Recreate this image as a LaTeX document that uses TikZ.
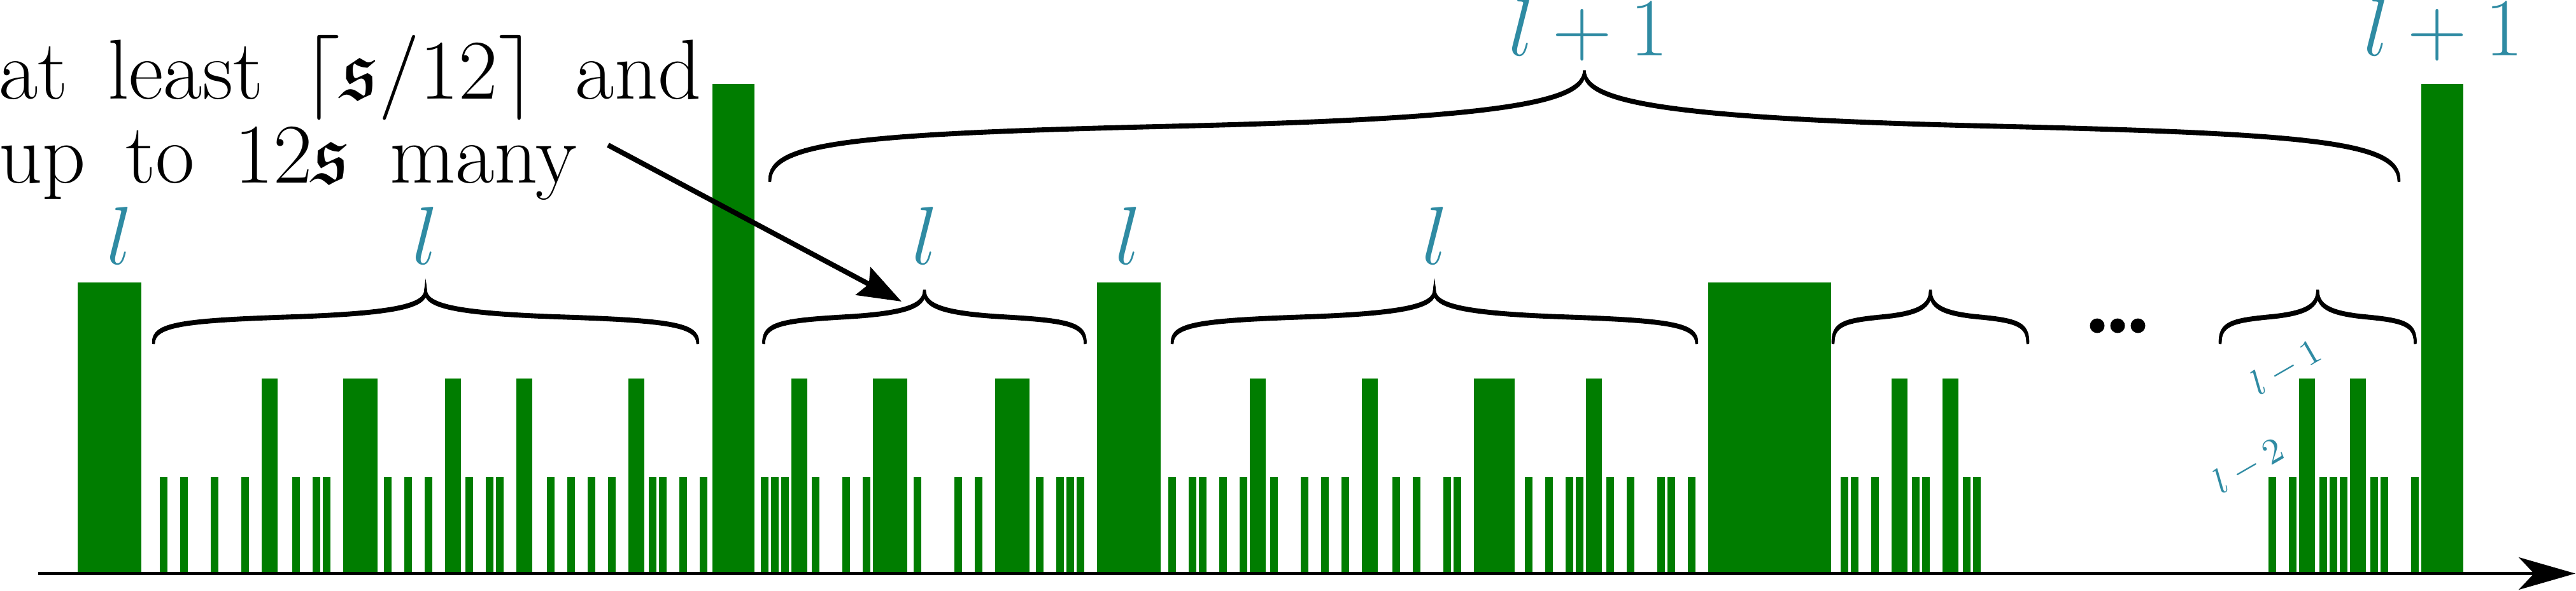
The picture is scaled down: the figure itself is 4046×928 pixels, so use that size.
\documentclass[tikz,border=0pt]{standalone}
\usepackage{amssymb}
\usetikzlibrary{arrows.meta}
\definecolor{bargreen}{RGB}{0,125,0}
\definecolor{labteal}{RGB}{47,139,163}
\tikzset{
  bar/.style={fill=bargreen},
  lab/.style={text=labteal, font=\fontsize{20.74}{21.12}\selectfont, inner sep=0pt, anchor=base},
  sublab/.style={text=labteal, font=\fontsize{9}{10}\selectfont, inner sep=0pt, rotate=30},
  bracestroke/.style={line width=0.7pt, line cap=butt},
  axisline/.style={line width=0.75pt, -{Stealth[length=14.24pt,width=8.16pt,inset=3.84pt]}},
  pointer/.style={line width=1.28pt, -{Stealth[length=10.9pt,width=7.84pt,inset=1.6pt]}},
  dotmark/.style={fill=black},
  note/.style={anchor=base west, align=left, inner sep=0pt, scale=1.03, transform shape,
    font={\fontsize{20.74}{20.5}\selectfont\spaceskip=0.468em\relax}},
}
% brace: #1 left x, #2 right x, #3 base y, #4 tip y (picture pixels, y downward)
\newcommand{\calbrace}[4]{%
  \foreach \s in {0pt,0.28pt,0.56pt}{%
    \draw[bracestroke, yshift=\s]
      (#1,#3) .. controls (#1,{#3-0.35*(#3-#4)}) and ({#1+0.05*(#2-#1)},{#3-0.43*(#3-#4)}) .. ({#1+0.25*(#2-#1)},{#3-0.5*(#3-#4)})
      .. controls ({#1+0.45*(#2-#1)},{#3-0.57*(#3-#4)}) and ({#1+0.5*(#2-#1)},{#3-0.72*(#3-#4)}) .. ({#1+0.5*(#2-#1)},#4)
      .. controls ({#1+0.5*(#2-#1)},{#3-0.72*(#3-#4)}) and ({#1+0.55*(#2-#1)},{#3-0.57*(#3-#4)}) .. ({#1+0.75*(#2-#1)},{#3-0.5*(#3-#4)})
      .. controls ({#2-0.05*(#2-#1)},{#3-0.43*(#3-#4)}) and (#2,{#3-0.35*(#3-#4)}) .. (#2,#3);
  }%
}
\begin{document}
\begin{tikzpicture}[x=0.16pt,y=-0.16pt]
\useasboundingbox (0,0) rectangle (4046,928);
% small bars (level l-2)
\foreach \k in {0,2,5,8,13,15,16,22,24,26,30,32,33,38,40,42,44,48,49,51,53,
  59,60,61,64,67,69,74,78,80,86,88,89,90,
  99,101,102,104,106,109,112,114,116,121,123,126,127,134,136,138,139,142,144,147,148,150,
  165,166,168,172,173,177,178,
  207,209,212,213,214,217,218,221}
  \fill[bar] ({251+16*\k},901) rectangle ({263+16*\k},750);
% medium bars (level l-1)
\foreach \k in {10,28,35,46,62,107,118,140,170,175,210,215}
  \fill[bar] ({251+16*\k},901) rectangle ({276+16*\k},595);
\foreach \a/\w in {539/54,1371/54,1563/54,2315/64}
  \fill[bar] (\a,901) rectangle ({\a+\w},595);
% level l bars
\fill[bar] (122,901) rectangle (222,444);
\fill[bar] (1723,901) rectangle (1823,444);
\fill[bar] (2683,901) rectangle (2876,444);
% level l+1 bars
\fill[bar] (1119,901) rectangle (1185,131.5);
\fill[bar] (3803,901) rectangle (3869,131.5);
% axis
\coordinate (axS) at (60,901.5);
\coordinate (axE) at (4045,901.5);
\draw[axisline] (axS) -- (axE);
% braces
\calbrace{241}{1096}{541}{459}
\calbrace{1199.5}{1704.5}{541}{459}
\calbrace{1841}{2665}{541}{459}
\calbrace{2879}{3185}{541}{459}
\calbrace{3487}{3793.5}{541}{459}
\calbrace{1209}{3768}{286}{114}
% labels
\node[lab] (la) at (188,415) {$l$};
\node[lab] (lb1) at (668,415) {$l$};
\node[lab] (lb2) at (1453,415) {$l$};
\node[lab] (lc) at (1772,415) {$l$};
\node[lab] (lb3) at (2254,415) {$l$};
\node[lab] (lbig) at (2495,87) {$l+1$};
\node[lab] (le) at (3838,87) {$l+1$};
\node[sublab] (lm1) at (3591,578) {$l-1$};
\node[sublab] (lm2) at (3532,733) {$l-2$};
% dots
\fill[dotmark] (3294,512) circle[radius=1.84pt];
\fill[dotmark] (3326,512) circle[radius=1.84pt];
\fill[dotmark] (3358,512) circle[radius=1.84pt];
% text and pointer
\node[note] (txt) at (-3,287)
  {at least $\lceil \mathfrak{s}/12\rceil$ and\\ up to $12\mathfrak{s}$ many};
\coordinate (ptrS) at (955,228);
\coordinate (ptrE) at (1416,474);
\draw[pointer] (ptrS) -- (ptrE);
\end{tikzpicture}
\end{document}
